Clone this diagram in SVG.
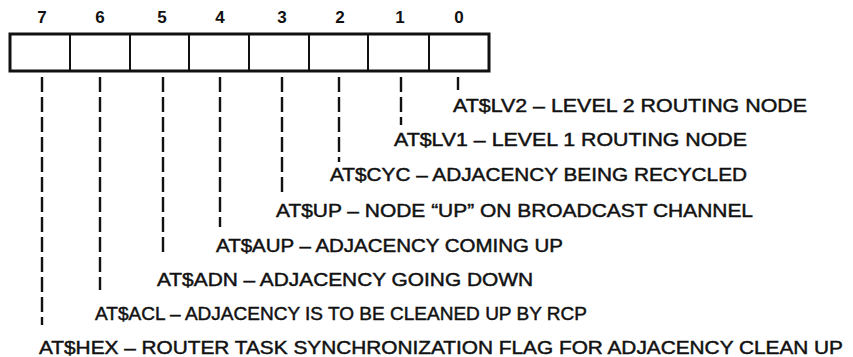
<svg xmlns="http://www.w3.org/2000/svg" width="853" height="357" viewBox="0 0 853 357">
<style>
.num{font-family:"Liberation Sans",Arial,sans-serif;font-size:17px;font-weight:bold;fill:#111;text-anchor:middle}
.lbl{font-family:"Liberation Sans",Arial,sans-serif;font-size:18px;fill:#111;stroke:#111;stroke-width:0.45}
.cell{fill:#fff;stroke:#111;stroke-width:2}
.lead{stroke:#111;stroke-width:2.4;stroke-dasharray:15 5;fill:none}
</style>
<rect width="853" height="357" fill="#fff"/>
<g id="register">
<rect class="cell" x="10" y="34" width="479" height="37" style="stroke-width:3"/>
<line class="cell" x1="70" y1="34" x2="70" y2="71"/>
<line class="cell" x1="130" y1="34" x2="130" y2="71"/>
<line class="cell" x1="189" y1="34" x2="189" y2="71"/>
<line class="cell" x1="249" y1="34" x2="249" y2="71"/>
<line class="cell" x1="309" y1="34" x2="309" y2="71"/>
<line class="cell" x1="368" y1="34" x2="368" y2="71"/>
<line class="cell" x1="429" y1="34" x2="429" y2="71"/>
<text class="num" x="42" y="23">7</text>
<text class="num" x="100" y="23">6</text>
<text class="num" x="162" y="23">5</text>
<text class="num" x="220" y="23">4</text>
<text class="num" x="282" y="23">3</text>
<text class="num" x="340" y="23">2</text>
<text class="num" x="400" y="23">1</text>
<text class="num" x="459" y="23">0</text>
</g>
<g id="connectors">
<line class="lead" x1="458" y1="77" x2="458" y2="90"/>
<line class="lead" x1="401" y1="77" x2="401" y2="125"/>
<line class="lead" x1="339" y1="77" x2="339" y2="162"/>
<line class="lead" x1="282" y1="77" x2="282" y2="192"/>
<line class="lead" x1="220" y1="77" x2="220" y2="227"/>
<line class="lead" x1="163" y1="77" x2="163" y2="255"/>
<line class="lead" x1="100" y1="77" x2="100" y2="290"/>
<line class="lead" x1="42" y1="77" x2="42" y2="325"/>
</g>
<g id="bit0"><text class="lbl" x="453" y="112" textLength="354" lengthAdjust="spacingAndGlyphs">AT$LV2 – LEVEL 2 ROUTING NODE</text></g>
<g id="bit1"><text class="lbl" x="394" y="146" textLength="353" lengthAdjust="spacingAndGlyphs">AT$LV1 – LEVEL 1 ROUTING NODE</text></g>
<g id="bit2"><text class="lbl" x="330" y="181" textLength="417" lengthAdjust="spacingAndGlyphs">AT$CYC – ADJACENCY BEING RECYCLED</text></g>
<g id="bit3"><text class="lbl" x="276" y="217" textLength="477" lengthAdjust="spacingAndGlyphs">AT$UP – NODE “UP” ON BROADCAST CHANNEL</text></g>
<g id="bit4"><text class="lbl" x="216" y="252" textLength="347" lengthAdjust="spacingAndGlyphs">AT$AUP – ADJACENCY COMING UP</text></g>
<g id="bit5"><text class="lbl" x="157" y="286" textLength="376" lengthAdjust="spacingAndGlyphs">AT$ADN – ADJACENCY GOING DOWN</text></g>
<g id="bit6"><text class="lbl" x="95" y="320" textLength="492" lengthAdjust="spacingAndGlyphs">AT$ACL – ADJACENCY IS TO BE CLEANED UP BY RCP</text></g>
<g id="bit7"><text class="lbl" x="39" y="354" textLength="804" lengthAdjust="spacingAndGlyphs">AT$HEX – ROUTER TASK SYNCHRONIZATION FLAG FOR ADJACENCY CLEAN UP</text></g>
</svg>
